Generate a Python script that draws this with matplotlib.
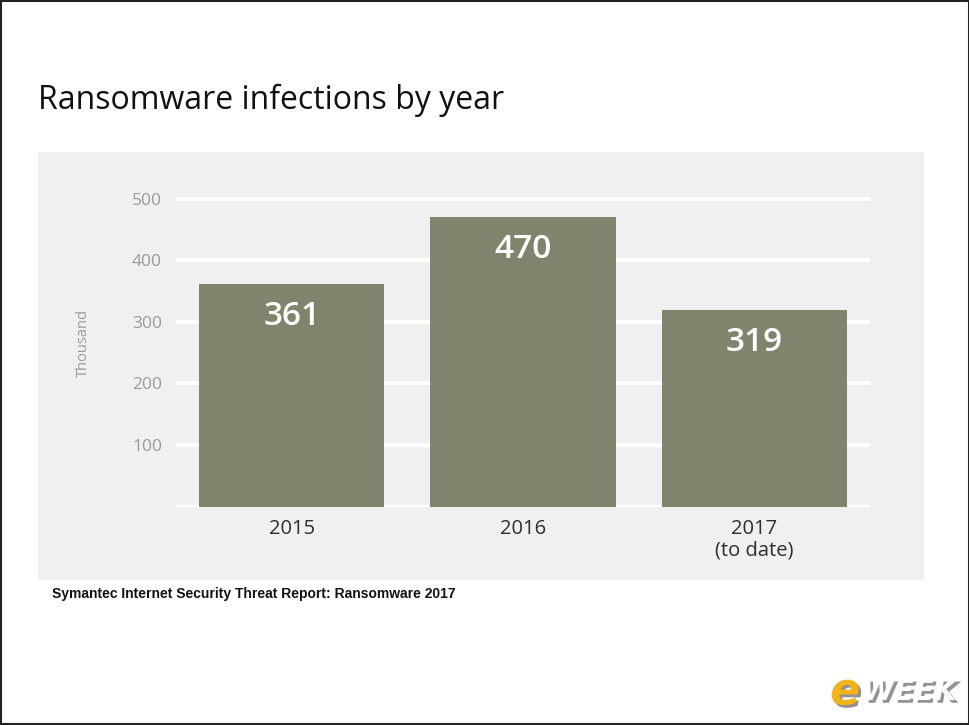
##
## === DEPENDENCIES
##

import matplotlib.pyplot as plt
import matplotlib.patheffects as path_effects
from matplotlib.patches import Rectangle

##
## === DATA
##

years = ["2015", "2016", "2017\n(to date)"]
infections_thousand = [361, 470, 319]
y_ticks = [100, 200, 300, 400, 500]

##
## === MAIN
##


def main() -> None:
    plt.rcParams["font.family"] = ["Open Sans", "DejaVu Sans"]

    fig = plt.figure(figsize=(9.7, 7.25), dpi=100)
    fig.patch.set_facecolor("white")

    # outer frame and grey panel, kept behind the axes
    fig.patches.append(Rectangle((0.001, 0.001), 0.998, 0.998, transform=fig.transFigure,
                                 fill=False, edgecolor="#222222", linewidth=1.5, zorder=-2))
    fig.patches.append(Rectangle((38 / 970, 1 - 580 / 725), (924 - 38) / 970, (580 - 152) / 725,
                                 transform=fig.transFigure, facecolor="#f0f0f0",
                                 edgecolor="none", zorder=-1))

    ax = fig.add_axes([176 / 970, 1 - 506.6 / 725, 694 / 970, (506.6 - 192.4) / 725])
    ax.set_facecolor("none")
    ax.set_zorder(1)

    positions = list(range(len(years)))
    bars = ax.bar(positions, infections_thousand, width=0.8, color="#81846c", zorder=3)
    for rect, value in zip(bars, infections_thousand):
        ax.text(rect.get_x() + rect.get_width() / 2, value - 52, str(value),
                ha="center", va="center", color="white", fontsize=24,
                fontweight="semibold", zorder=4)

    for tick in [0] + y_ticks:
        ax.axhline(tick, color="white", linewidth=3, zorder=1)

    ax.set_xlim(-0.5, 2.5)
    ax.set_ylim(0, 510)
    ax.set_yticks(y_ticks)
    ax.set_yticklabels([str(t) for t in y_ticks], color="#9a9a9a", fontsize=12.5)
    ax.set_xticks(positions)
    ax.set_xticklabels(years, color="#2e2e2e", fontsize=14.5, linespacing=1.1)
    ax.tick_params(axis="both", length=0)
    ax.tick_params(axis="y", pad=10)
    ax.tick_params(axis="x", pad=9)
    for spine in ax.spines.values():
        spine.set_visible(False)

    fig.text(83 / 970, 1 - 343 / 725, "Thousand", rotation=90, ha="center", va="center",
             color="#9a9a9a", fontsize=10.5)

    fig.text(38 / 970, 1 - 100 / 725, "Ransomware infections by year", ha="left",
             va="center", color="#111111", fontsize=23)

    fig.text(52 / 970, 1 - 594 / 725, "Symantec Internet Security Threat Report: Ransomware 2017",
             ha="left", va="center", color="#111111", fontsize=10, fontweight="bold",
             family=["Liberation Sans", "DejaVu Sans"])

    # eWEEK mark
    shadow = [path_effects.withSimplePatchShadow(offset=(2, -2), shadow_rgbFace="#777777", alpha=0.8)]
    fig.text(830 / 970, 1 - 692 / 725, "e", ha="left", va="center", color="#f2b418",
             fontsize=32, fontweight="bold", style="italic", path_effects=shadow,
             family=["DejaVu Sans"])
    fig.text(862 / 970, 1 - 692 / 725, "WEEK", ha="left", va="center", color="white",
             fontsize=21, fontweight="bold", style="italic", path_effects=shadow,
             family=["DejaVu Sans"])

    fig_name = "out.png"
    fig.savefig(fig_name, dpi=100)
    print(f"\t> saved: {fig_name}")


if __name__ == "__main__":
    main()
